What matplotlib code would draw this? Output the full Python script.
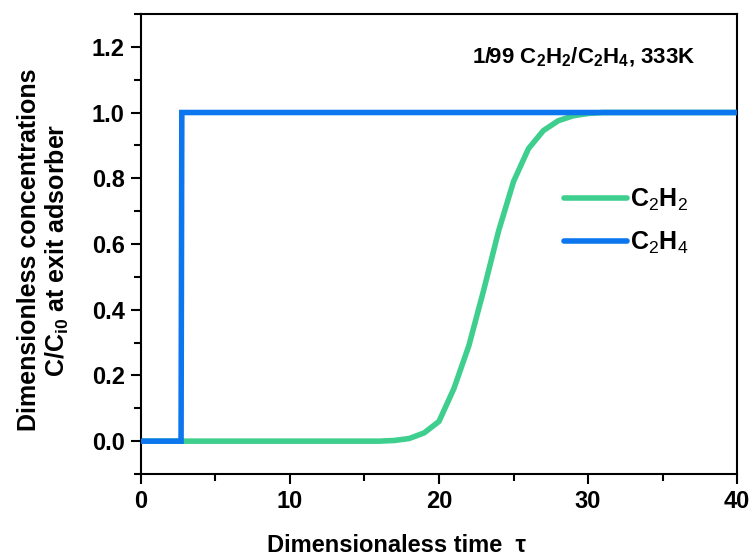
import matplotlib
matplotlib.use("Agg")
import matplotlib.pyplot as plt
from matplotlib.ticker import MultipleLocator

plt.rcParams['font.family'] = ['Liberation Sans', 'DejaVu Sans']
plt.rcParams['mathtext.fontset'] = 'custom'
plt.rcParams['mathtext.rm'] = 'Liberation Sans'
plt.rcParams['mathtext.bf'] = 'Liberation Sans:bold'
plt.rcParams['mathtext.it'] = 'Liberation Sans:italic'

# Breakthrough curves (dimensionless time vs outlet concentration)
tau_c2h2 = [0, 10, 16, 17, 18, 19, 20, 21, 22, 23, 24, 25, 26, 27, 28, 29, 30, 31, 40]
conc_c2h2 = [0, 0, 0, 0.002, 0.008, 0.025, 0.06, 0.16, 0.29, 0.46, 0.64, 0.79,
             0.89, 0.945, 0.975, 0.99, 0.997, 1.0, 1.0]

tau_c2h4 = [0, 2.7, 2.75, 40]
conc_c2h4 = [0, 0, 1.0, 1.0]

green = '#3ecf8e'
blue = '#0b76ee'

fig = plt.figure(figsize=(7.53, 5.57), dpi=100)
ax = fig.add_axes([0.187, 0.149, 0.792, 0.826])

ax.plot(tau_c2h2, conc_c2h2, color=green, lw=4, solid_capstyle='round',
        solid_joinstyle='round', label='C$_2$H$_2$', zorder=2)
ax.plot(tau_c2h4, conc_c2h4, color=blue, lw=4, solid_capstyle='butt',
        solid_joinstyle='miter', label='C$_2$H$_4$', zorder=3)

ax.set_xlim(0, 40)
ax.set_ylim(-0.1, 1.3)
ax.xaxis.set_major_locator(MultipleLocator(10))
ax.xaxis.set_minor_locator(MultipleLocator(5))
ax.yaxis.set_minor_locator(MultipleLocator(0.1))
ax.set_yticks([0, 0.2, 0.4, 0.6, 0.8, 1.0, 1.2])
ax.set_yticklabels(['0.0', '0.2', '0.4', '0.6', '0.8', '1.0', '1.2'])
ax.tick_params(which='both', direction='out', width=1.5, top=False, right=False)
ax.tick_params(which='major', length=7.5, labelsize=17, pad=4)
ax.tick_params(which='minor', length=5)
for lbl in ax.get_xticklabels() + ax.get_yticklabels():
    lbl.set_fontweight('bold')
for sp in ax.spines.values():
    sp.set_linewidth(1.5)

ax.set_xlabel('Dimensionaless time  τ', fontsize=17, fontweight='bold')
ax.xaxis.set_label_coords(0.428, -0.131)
ax.set_ylabel('Dimensionless concentrations\nC/C$_{\\mathbf{i0}}$ at exit adsorber',
              fontsize=18, fontweight='bold', linespacing=1.15)
ax.yaxis.set_label_coords(-0.117, 0.487)

ax.text(0.93, 0.906,
        r'1/99 C$_\mathbf{2}$H$_\mathbf{2}$/C$_\mathbf{2}$H$_\mathbf{4}$, 333K',
        transform=ax.transAxes, ha='right', va='center', fontsize=16, fontweight='bold')

leg = ax.legend(loc='upper left', bbox_to_anchor=(0.71, 0.625), frameon=False,
                fontsize=18, handlelength=2.5, handletextpad=0.15, labelspacing=0.7,
                borderaxespad=0, borderpad=0)
for t in leg.get_texts():
    t.set_fontweight('bold')
for h in leg.get_lines():
    h.set_solid_capstyle('round')

fig.savefig('out.png', dpi=100)
